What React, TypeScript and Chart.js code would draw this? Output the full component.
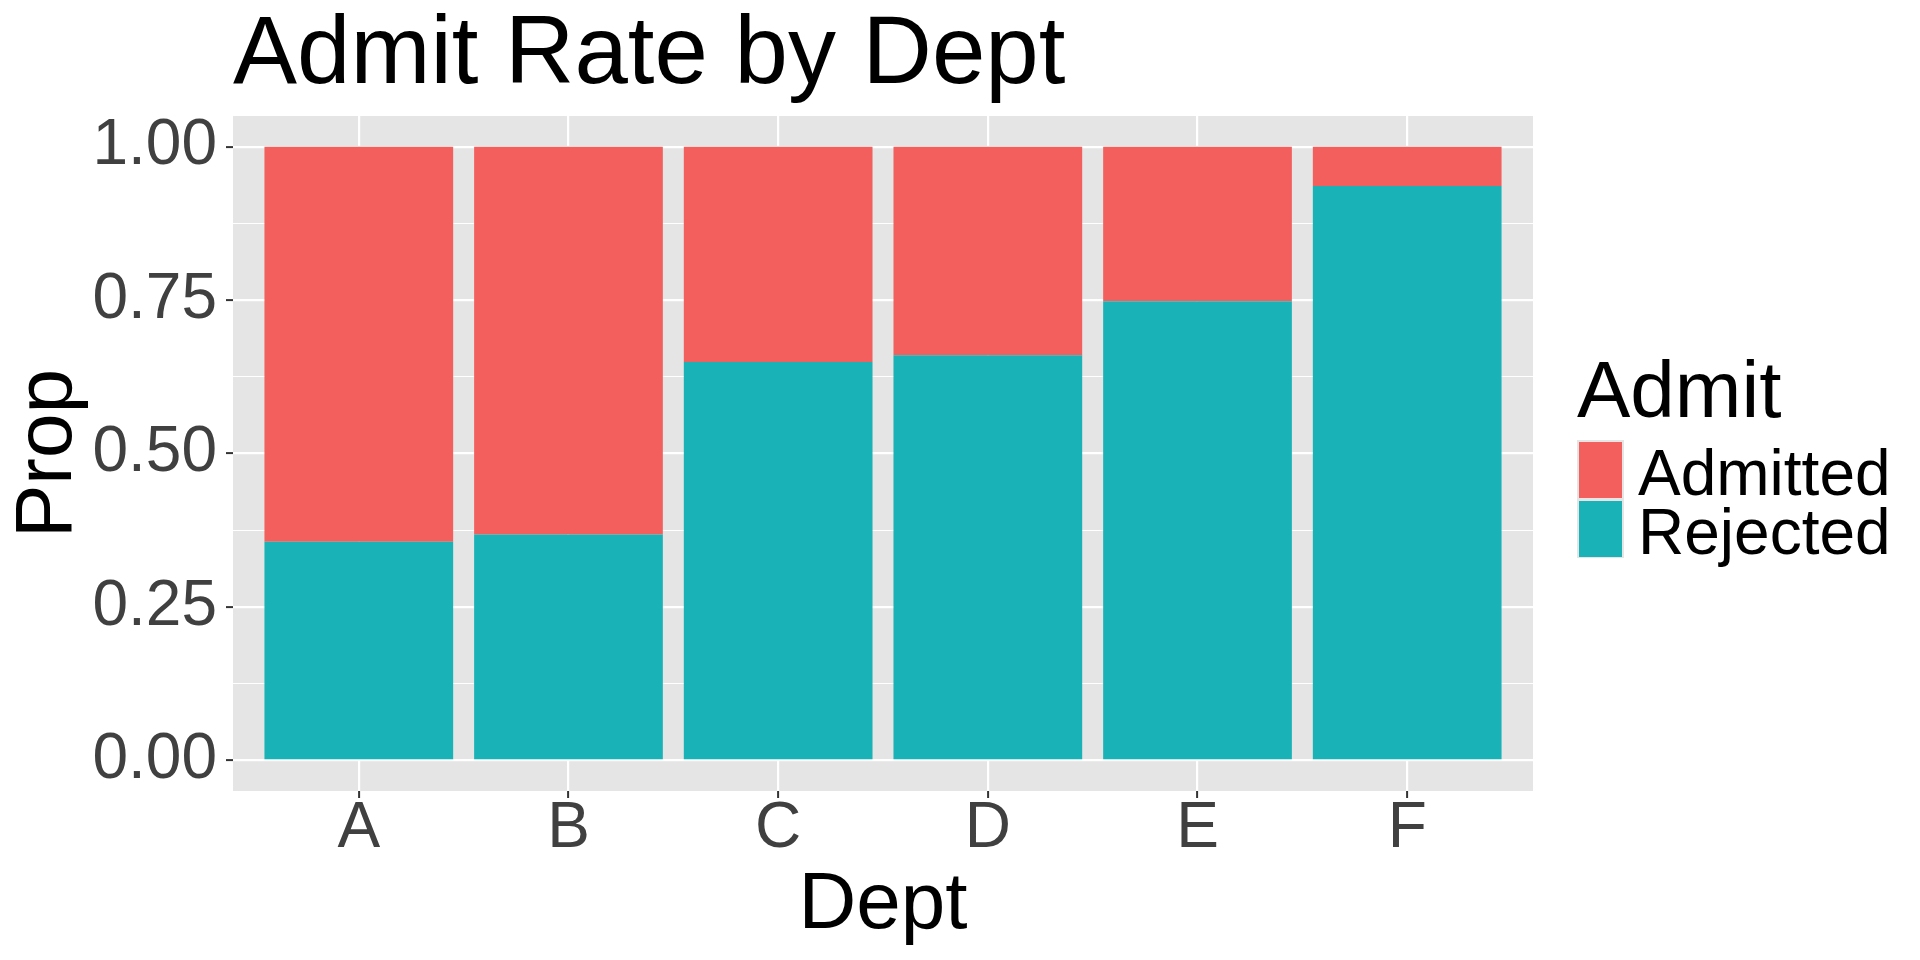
import React, { useEffect, useRef } from "react";
import { Chart, registerables } from "chart.js";

Chart.register(...registerables);

const categories = ["A", "B", "C", "D", "E", "F"];
const admitted = [0.644, 0.632, 0.351, 0.34, 0.252, 0.064];
const rejected = [0.356, 0.368, 0.649, 0.66, 0.748, 0.936];
const yMajorTicks = [0, 0.25, 0.5, 0.75, 1];
const yMinorTicks = [0.125, 0.375, 0.625, 0.875];
const legendLabels = ["Admitted", "Rejected"];

const TITLE = "Admit Rate by Dept";
const X_TITLE = "Dept";
const Y_TITLE = "Prop";
const LEGEND_TITLE = "Admit";

const RED = "#F35F5C";
const TEAL = "#19B3B7";
const PANEL = "#E5E5E5";
const TICK_TEXT = "#404040";
const FONT = '"Liberation Sans", Arial, Helvetica, sans-serif';

const isMajor = (v: number) => yMajorTicks.some((m) => Math.abs(m - v) < 1e-9);

const panelBg = {
  id: "panelBg",
  beforeDraw(chart: any) {
    const { ctx, chartArea, width, height } = chart;
    ctx.save();
    ctx.fillStyle = "#FFFFFF";
    ctx.fillRect(0, 0, width, height);
    ctx.fillStyle = PANEL;
    ctx.fillRect(chartArea.left, chartArea.top, chartArea.right - chartArea.left, chartArea.bottom - chartArea.top);
    ctx.restore();
  },
};

const textPlugin = {
  id: "ggText",
  afterDraw(chart: any) {
    const { ctx, chartArea } = chart;
    ctx.save();
    ctx.fillStyle = "#000000";
    ctx.textBaseline = "alphabetic";

    // main title
    ctx.font = `96px ${FONT}`;
    ctx.textAlign = "left";
    ctx.fillText(TITLE, chartArea.left, 83);

    // x title
    ctx.font = `80px ${FONT}`;
    ctx.textAlign = "center";
    ctx.fillText(X_TITLE, (chartArea.left + chartArea.right) / 2, 928);

    // y title
    ctx.save();
    ctx.translate(71, (chartArea.top + chartArea.bottom) / 2);
    ctx.rotate(-Math.PI / 2);
    ctx.textAlign = "center";
    ctx.fillText(Y_TITLE, 0, 0);
    ctx.restore();

    // legend
    ctx.textAlign = "left";
    ctx.font = `80px ${FONT}`;
    ctx.fillText(LEGEND_TITLE, 1577, 417);

    const keyX = 1577;
    const keyTop = 440;
    const keyH = 59;
    const keyW = 47;
    const colors = [RED, TEAL];
    ctx.fillStyle = "#E5E5E5";
    ctx.fillRect(keyX, keyTop, keyW, keyH * legendLabels.length);
    legendLabels.forEach((lab, i) => {
      const top = keyTop + i * keyH;
      ctx.fillStyle = colors[i];
      ctx.fillRect(keyX + 2, top + 2, keyW - 4, keyH - 3);
      ctx.fillStyle = "#000000";
      ctx.font = `64px ${FONT}`;
      ctx.fillText(lab, 1638, top + 55);
    });
    ctx.restore();
  },
};

export default function App() {
  const ref = useRef<HTMLCanvasElement | null>(null);

  useEffect(() => {
    if (!ref.current) return;
    const chart = new Chart(ref.current, {
      type: "bar",
      data: {
        datasets: [
          {
            label: "Rejected",
            data: rejected.map((v, i) => ({ x: i + 1, y: v })),
            backgroundColor: TEAL,
            borderWidth: 0,
            barPercentage: 0.9,
            categoryPercentage: 1,
          },
          {
            label: "Admitted",
            data: admitted.map((v, i) => ({ x: i + 1, y: v })),
            backgroundColor: RED,
            borderWidth: 0,
            barPercentage: 0.9,
            categoryPercentage: 1,
          },
        ],
      },
      options: {
        responsive: false,
        animation: false,
        events: [],
        devicePixelRatio: 1,
        layout: { padding: { top: 116, right: 387, left: 0, bottom: 0 } },
        plugins: {
          legend: { display: false },
          title: { display: false },
          tooltip: { enabled: false },
        },
        scales: {
          x: {
            type: "linear",
            min: 0.4,
            max: 6.6,
            offset: false,
            stacked: true,
            afterBuildTicks: (s: any) => {
              s.ticks = categories.map((_, i) => ({ value: i + 1 }));
            },
            afterFit: (s: any) => {
              s.height = 169;
            },
            border: { display: false },
            grid: {
              offset: false,
              color: "#FFFFFF",
              lineWidth: 2.2,
              drawTicks: true,
              tickLength: 7,
              tickColor: "#333333",
              tickWidth: 2,
            },
            ticks: {
              autoSkip: false,
              maxRotation: 0,
              padding: -1,
              color: TICK_TEXT,
              font: { family: FONT, size: 64, lineHeight: 1 },
              callback: (v: any) => categories[Math.round(v) - 1] ?? "",
            },
          },
          y: {
            type: "linear",
            min: -0.05,
            max: 1.05,
            stacked: true,
            afterBuildTicks: (s: any) => {
              s.ticks = [...yMajorTicks, ...yMinorTicks]
                .sort((a, b) => a - b)
                .map((v) => ({ value: v }));
            },
            afterFit: (s: any) => {
              s.width = 233;
            },
            border: { display: false },
            grid: {
              color: "#FFFFFF",
              lineWidth: (c: any) => (c.tick && isMajor(c.tick.value) ? 2.2 : 1.1),
              drawTicks: true,
              tickLength: 7,
              tickColor: (c: any) => (c.tick && isMajor(c.tick.value) ? "#333333" : "rgba(0,0,0,0)"),
              tickWidth: 2,
            },
            ticks: {
              autoSkip: false,
              padding: 9,
              color: TICK_TEXT,
              font: { family: FONT, size: 64, lineHeight: 1 },
              callback: (v: any) => (isMajor(v) ? Number(v).toFixed(2) : ""),
            },
          },
        },
      } as any,
      plugins: [panelBg, textPlugin],
    });
    return () => chart.destroy();
  }, []);

  return (
    <div style={{ position: "fixed", left: 0, top: 0, width: 1920, height: 960, background: "#fff" }}>
      <canvas ref={ref} width={1920} height={960} style={{ display: "block", width: 1920, height: 960 }} />
    </div>
  );
}
